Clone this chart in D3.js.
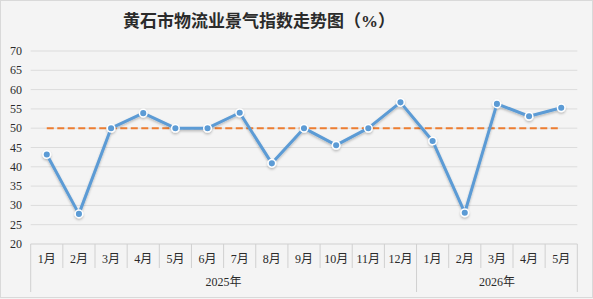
<!DOCTYPE html>
<html>
<head>
<meta charset="utf-8">
<script src="https://cdn.jsdelivr.net/npm/d3@7"></script>
<style>
  html, body { margin: 0; padding: 0; background: #f4f4f4; }
  svg { display: block; }
  text { font-family: "Liberation Serif", "Noto Sans CJK SC", serif; fill: #2b2b2b; }
</style>
</head>
<body>
<svg></svg>
<script>
const width = 593, height = 299;
const months = ["1月","2月","3月","4月","5月","6月","7月","8月","9月","10月","11月","12月","1月","2月","3月","4月","5月"];
const years = ["2025年", "2026年"];
const yearCounts = [12, 5];
const values = [43.2, 27.8, 50.0, 53.9, 50.0, 50.0, 54.0, 40.9, 50.0, 45.6, 50.0, 56.7, 46.7, 28.1, 56.3, 53.1, 55.3];
const refValue = 50;
const yTicks = [20, 25, 30, 35, 40, 45, 50, 55, 60, 65, 70];

const svg = d3.select("svg")
    .attr("width", width)
    .attr("height", height);

svg.append("rect")
    .attr("x", 0.5).attr("y", 0.5)
    .attr("width", width - 1).attr("height", height - 2)
    .attr("fill", "#f4f4f4")
    .attr("stroke", "#d9d9d9");

const defs = svg.append("defs");
const shadow = defs.append("filter").attr("id", "shadow")
    .attr("x", "-10%").attr("y", "-10%").attr("width", "120%").attr("height", "130%");
shadow.append("feDropShadow")
    .attr("dx", 0).attr("dy", 1.5).attr("stdDeviation", 1.2)
    .attr("flood-color", "#000").attr("flood-opacity", 0.25);

const x = d3.scaleBand()
    .domain(d3.range(months.length))
    .range([30.7, 577.3]);
const y = d3.scaleLinear()
    .domain([20, 70])
    .range([244, 51]);

// title
svg.append("text")
    .attr("x", 259).attr("y", 27)
    .attr("text-anchor", "middle")
    .style("font-size", "17px")
    .style("font-weight", "bold")
    .text("黄石市物流业景气指数走势图（%）");

// grid
svg.append("g")
    .selectAll("line")
    .data(yTicks.filter(d => d > 20))
    .enter().append("line")
    .attr("x1", 30.7).attr("x2", 577.3)
    .attr("y1", d => y(d)).attr("y2", d => y(d))
    .attr("stroke", "#dcdcdc")
    .attr("stroke-width", 1);

// y labels
svg.append("g")
    .selectAll("text")
    .data(yTicks)
    .enter().append("text")
    .attr("x", 22)
    .attr("y", d => y(d) + 4)
    .attr("text-anchor", "end")
    .style("font-size", "12px")
    .text(d => d);

// category axis
const axis = svg.append("g").attr("stroke", "#d0d0d0").attr("stroke-width", 1);
axis.append("line")
    .attr("x1", 30.7).attr("x2", 577.3)
    .attr("y1", 244).attr("y2", 244);
axis.selectAll("line.tick")
    .data(d3.range(months.length + 1))
    .enter().append("line")
    .attr("class", "tick")
    .attr("x1", i => x.range()[0] + i * x.bandwidth())
    .attr("x2", i => x.range()[0] + i * x.bandwidth())
    .attr("y1", 244)
    .attr("y2", i => (i === 0 || i === 12 || i === months.length) ? 292 : 268);

svg.append("g")
    .selectAll("text")
    .data(months)
    .enter().append("text")
    .attr("x", (d, i) => x(i) + x.bandwidth() / 2)
    .attr("y", 263)
    .attr("text-anchor", "middle")
    .style("font-size", "12px")
    .text(d => d);

let start = 0;
years.forEach((yr, k) => {
    const mid = x.range()[0] + (start + yearCounts[k] / 2) * x.bandwidth();
    svg.append("text")
        .attr("x", mid).attr("y", 286)
        .attr("text-anchor", "middle")
        .style("font-size", "12px")
        .text(yr);
    start += yearCounts[k];
});

// reference line
svg.append("line")
    .attr("x1", x(0) + x.bandwidth() / 2)
    .attr("x2", x(months.length - 1) + x.bandwidth() / 2)
    .attr("y1", y(refValue)).attr("y2", y(refValue))
    .attr("stroke", "#ed7d31")
    .attr("stroke-width", 2)
    .attr("stroke-dasharray", "7,3.5");

// series
const line = d3.line()
    .x((d, i) => x(i) + x.bandwidth() / 2)
    .y(d => y(d));

const series = svg.append("g").attr("filter", "url(#shadow)");
series.append("path")
    .datum(values)
    .attr("d", line)
    .attr("fill", "none")
    .attr("stroke", "#5b9bd5")
    .attr("stroke-width", 3)
    .attr("stroke-linejoin", "round");

series.selectAll("circle")
    .data(values)
    .enter().append("circle")
    .attr("cx", (d, i) => x(i) + x.bandwidth() / 2)
    .attr("cy", d => y(d))
    .attr("r", 3.8)
    .attr("fill", "#5b9bd5")
    .attr("stroke", "#fff")
    .attr("stroke-width", 1.5);
</script>
</body>
</html>
